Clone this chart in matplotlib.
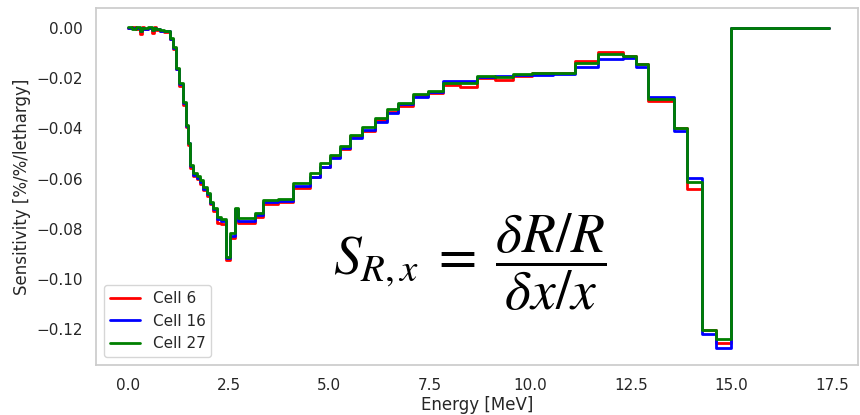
import numpy as np
import matplotlib
matplotlib.use("Agg")
import matplotlib.pyplot as plt
import seaborn as sns

# Group boundaries in MeV (fine groups below ~2.7 MeV, coarser above)
energy_edges = [
    0.0, 0.1, 0.2, 0.3, 0.35, 0.4, 0.5, 0.6, 0.65, 0.7, 0.8, 0.9,
    1.04, 1.12, 1.19, 1.27, 1.37, 1.44, 1.49, 1.54, 1.62, 1.71, 1.79,
    1.86, 1.96, 2.04, 2.11, 2.21, 2.31, 2.44, 2.53, 2.66, 2.73, 3.16,
    3.35, 3.73, 4.10, 4.52, 4.77, 5.02, 5.27, 5.52, 5.81, 6.14, 6.44,
    6.71, 7.08, 7.45, 7.83, 8.25, 8.67, 9.12, 9.57, 10.04, 10.56, 11.11,
    11.68, 12.30, 12.62, 12.92, 13.57, 13.89, 14.26, 14.61, 14.98, 17.42,
]

# Sensitivity per group [%/%/lethargy]
cell6 = [
    0.0001, 0.0005, -0.0003, -0.0022, 0.0004, -0.0004, 0.0002, -0.0020,
    0.0003, -0.0006, -0.0010, -0.0014,
    -0.0045, -0.0082, -0.0165, -0.0230, -0.0305, -0.0396, -0.0465, -0.0556,
    -0.0590, -0.0602, -0.0620, -0.0645, -0.0668, -0.0703, -0.0728, -0.0775,
    -0.0780, -0.0925, -0.0835, -0.0722, -0.0775, -0.0755, -0.0703, -0.0692,
    -0.0637, -0.0594, -0.0552, -0.0512, -0.0482, -0.0432, -0.0410, -0.0368,
    -0.0335, -0.0312, -0.0270, -0.0260, -0.0228, -0.0235, -0.0199, -0.0207,
    -0.0190, -0.0180, -0.0178, -0.0132, -0.0094, -0.0112, -0.0143, -0.0291,
    -0.0400, -0.0641, -0.1205, -0.1255, 0.0,
]
cell16 = [
    0.0002, 0.0000, 0.0002, -0.0012, 0.0001, -0.0002, 0.0001, -0.0008,
    0.0001, -0.0004, -0.0010, -0.0013,
    -0.0042, -0.0078, -0.0162, -0.0222, -0.0298, -0.0390, -0.0460, -0.0550,
    -0.0585, -0.0596, -0.0612, -0.0640, -0.0662, -0.0698, -0.0722, -0.0760,
    -0.0770, -0.0918, -0.0828, -0.0720, -0.0768, -0.0746, -0.0695, -0.0690,
    -0.0630, -0.0592, -0.0554, -0.0518, -0.0478, -0.0438, -0.0406, -0.0375,
    -0.0338, -0.0304, -0.0275, -0.0254, -0.0212, -0.0211, -0.0196, -0.0191,
    -0.0188, -0.0189, -0.0182, -0.0154, -0.0124, -0.0120, -0.0154, -0.0275,
    -0.0410, -0.0598, -0.1219, -0.1275, 0.0,
]
cell27 = [
    0.0003, -0.0002, 0.0004, -0.0010, 0.0002, -0.0001, 0.0003, -0.0006,
    0.0000, -0.0003, -0.0008, -0.0012,
    -0.0040, -0.0076, -0.0159, -0.0219, -0.0295, -0.0386, -0.0458, -0.0546,
    -0.0578, -0.0590, -0.0606, -0.0633, -0.0657, -0.0693, -0.0717, -0.0753,
    -0.0762, -0.0912, -0.0817, -0.0717, -0.0757, -0.0737, -0.0685, -0.0681,
    -0.0618, -0.0578, -0.0538, -0.0506, -0.0470, -0.0426, -0.0394, -0.0359,
    -0.0323, -0.0299, -0.0263, -0.0251, -0.0219, -0.0219, -0.0191, -0.0195,
    -0.0185, -0.0181, -0.0181, -0.0138, -0.0104, -0.0112, -0.0143, -0.0283,
    -0.0398, -0.0614, -0.1203, -0.1239, 0.0,
]

series = [("Cell 6", cell6, "red"), ("Cell 16", cell16, "blue"), ("Cell 27", cell27, "green")]

sns.set_theme(style="whitegrid", context="notebook")
plt.rcParams["mathtext.fontset"] = "stix"

fig = plt.figure(figsize=(8.6, 4.15), dpi=100)
ax = fig.add_axes([0.1116, 0.1205, 0.886, 0.8602])
ax.grid(False)

edges = np.array(energy_edges)
for name, vals, color in series:
    v = np.array(vals)
    ax.step(edges, np.append(v, v[-1]), where="post", color=color, lw=2, label=name)

ax.set_xlim(-0.795, 18.14)
ax.set_ylim(-0.1343, 0.008)
ax.set_xticks(np.arange(0, 17.6, 2.5))
ax.set_xlabel("Energy [MeV]", labelpad=2)
ax.set_ylabel("Sensitivity [%/%/lethargy]")
ax.legend(loc="lower left")

# sensitivity definition drawn over the plot
fig.text(0.546, 0.369, r"$S_{R,x}\;=\;\dfrac{\delta R/R}{\delta x/x}$",
         fontsize=40, ha="center", va="center", color="black")

fig.savefig("out.png", dpi=100)
